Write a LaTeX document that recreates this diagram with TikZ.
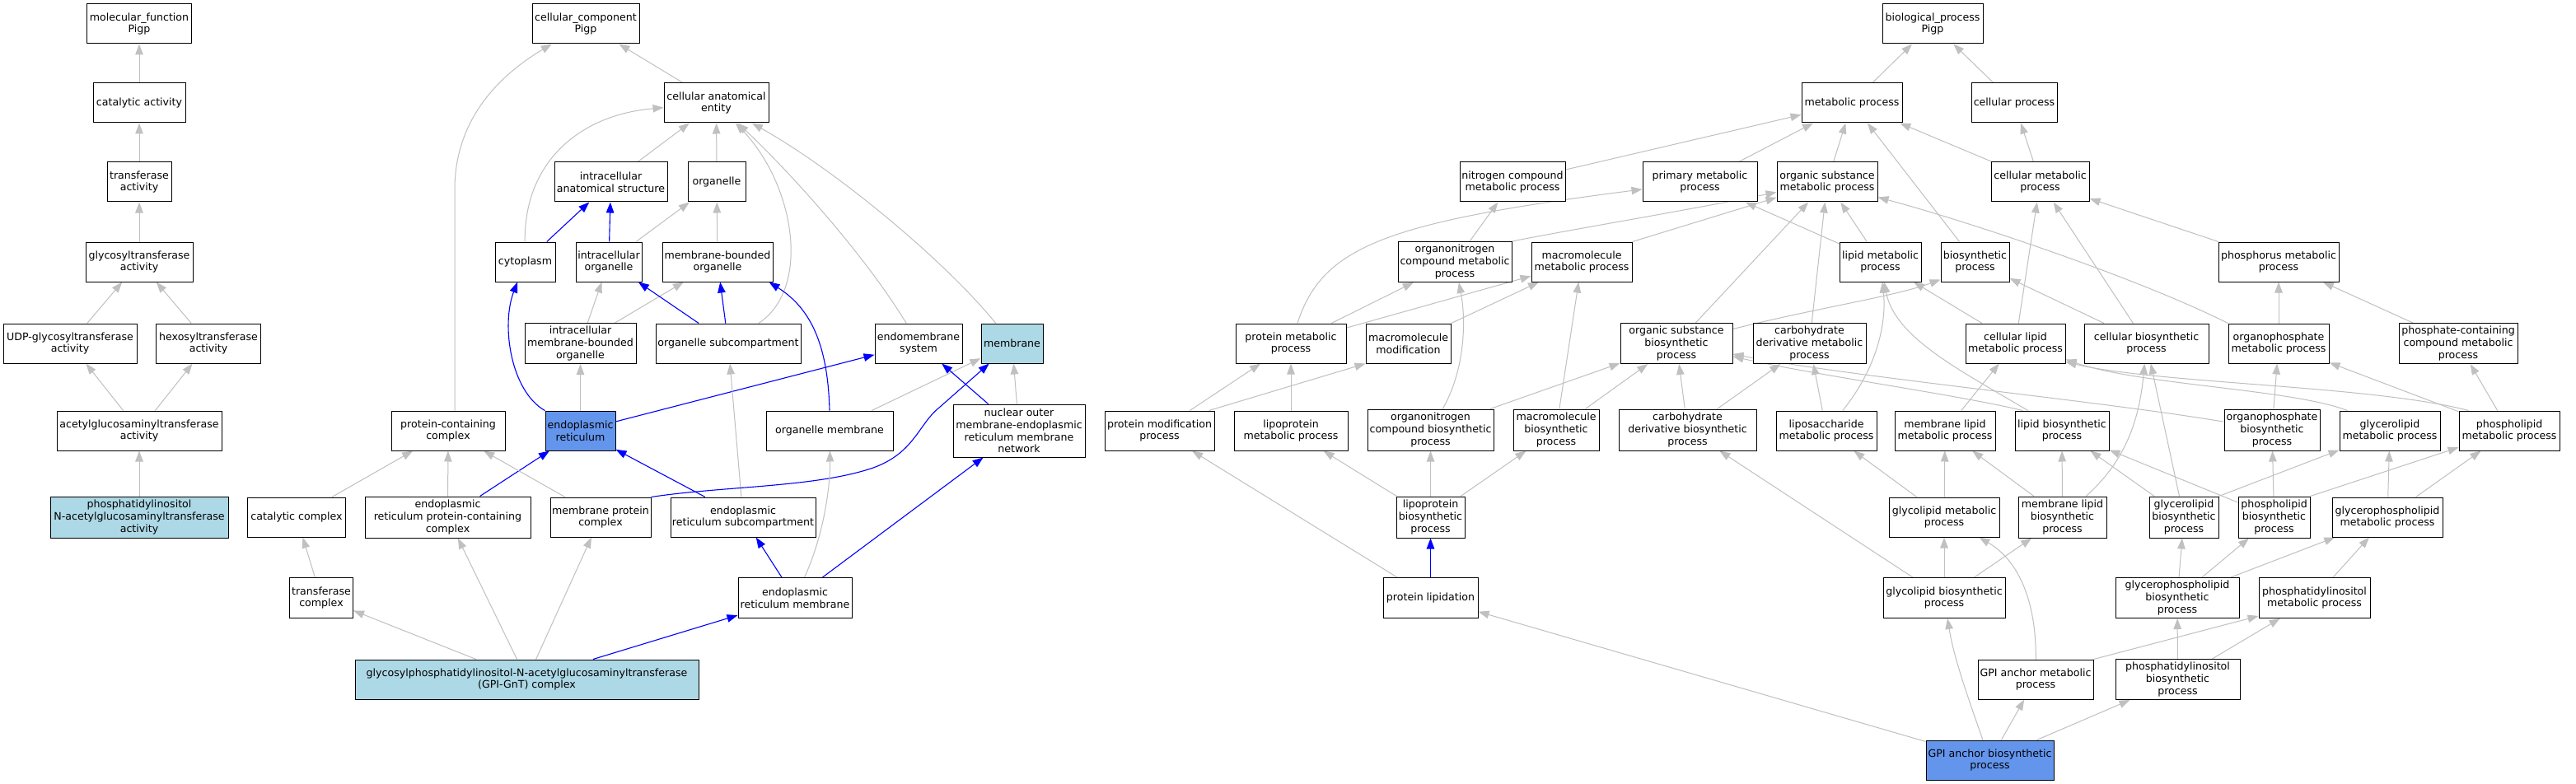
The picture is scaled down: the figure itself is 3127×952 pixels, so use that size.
\documentclass[tikz,border=0pt]{standalone}
\usepackage{fontspec}
\setmainfont{DejaVu Sans}
\usetikzlibrary{arrows.meta,backgrounds}
\definecolor{lb}{HTML}{ADD8E6}
\definecolor{cb}{HTML}{6495ED}
\definecolor{eg}{HTML}{C0C0C0}
\definecolor{eb}{HTML}{0000FF}
\tikzset{
  box/.style={draw=black, line width=1pt, fill=white, rectangle, inner sep=0pt, align=center,
              font=\fontsize{12.6pt}{14.8pt}\selectfont},
  gedge/.style={draw=eg, line width=1pt, -{Triangle[length=13pt,width=9.5pt]}},
  bedge/.style={draw=eb, line width=1.1pt, -{Triangle[length=13pt,width=9.5pt]}}
}
\newcommand{\mknode}[7][]{\node[box,#1,minimum width=#5pt,minimum height=#6pt] (#2) at (#3,#4) {#7};}
\begin{document}
\begin{tikzpicture}[x=1pt,y=-1pt]
\useasboundingbox (0,0) rectangle (3127,952);
% ---------- molecular function ----------
\mknode{mf}{169}{29}{127}{48}{molecular\_function\\Pigp}
\mknode{cat}{169}{125}{112}{48}{catalytic activity}
\mknode{tra}{169}{221}{78}{48}{transferase\\activity}
\mknode{gly}{169}{318}{130}{48}{glycosyltransferase\\activity}
\mknode{udp}{85}{417}{162}{48}{UDP-glycosyltransferase\\activity}
\mknode{hex}{253}{417}{127}{48}{hexosyltransferase\\activity}
\mknode{acg}{169}{523}{200}{48}{acetylglucosaminyltransferase\\activity}
\mknode[fill=lb]{pin}{169}{628}{216}{50}{phosphatidylinositol\\N-acetylglucosaminyltransferase\\activity}
% ---------- cellular component ----------
\mknode{cc}{711}{29}{130}{48}{cellular\_component\\Pigp}
\mknode{cae}{869.5}{125}{127}{48}{cellular anatomical\\entity}
\mknode{ias}{741.5}{221}{137}{48}{intracellular\\anatomical structure}
\mknode{org}{870}{221}{70}{48}{organelle}
\mknode{cyt}{637.5}{318}{73}{48}{cytoplasm}
\mknode{io}{739}{318}{80}{48}{intracellular\\organelle}
\mknode{mbo}{871}{318}{134}{48}{membrane-bounded\\organelle}
\mknode{imbo}{704.5}{417}{135}{49}{intracellular\\membrane-bounded\\organelle}
\mknode{osc}{884}{417}{176}{48}{organelle subcompartment}
\mknode{ems}{1115}{417}{106}{48}{endomembrane\\system}
\mknode[fill=lb]{mem}{1228.5}{417}{75}{48}{membrane}
\mknode{pcc}{544}{523}{138}{48}{protein-containing\\complex}
\mknode[fill=cb]{er}{704.5}{523}{85}{48}{endoplasmic\\reticulum}
\mknode{om}{1007}{523}{154}{48}{organelle membrane}
\mknode{nom}{1237}{523}{160}{64}{nuclear outer\\membrane-endoplasmic\\reticulum membrane\\network}
\mknode{catc}{360}{628}{119}{48}{catalytic complex}
\mknode{erpc}{543.5}{628}{201}{50}{endoplasmic\\reticulum protein-containing\\complex}
\mknode{mpc}{729}{628}{122}{48}{membrane protein\\complex}
\mknode{ersc}{902}{628}{176}{48}{endoplasmic\\reticulum subcompartment}
\mknode{trc}{390}{726}{77}{49}{transferase\\complex}
\mknode{erm}{965}{726}{138}{49}{endoplasmic\\reticulum membrane}
\mknode[fill=lb]{gnt}{639.5}{825}{417}{48}{glycosylphosphatidylinositol-N-acetylglucosaminyltransferase\\(GPI-GnT) complex}
% ---------- biological process ----------
\mknode{bp}{2346}{29}{122}{48}{biological\_process\\Pigp}
\mknode{mp}{2248}{125}{122}{48}{metabolic process}
\mknode{cp}{2445}{125}{104}{48}{cellular process}
\mknode{ncmp}{1836}{221}{128}{48}{nitrogen compound\\metabolic process}
\mknode{pmp}{2063.5}{221}{139}{48}{primary metabolic\\process}
\mknode{osmp}{2218}{221}{122}{48}{organic substance\\metabolic process}
\mknode{cmp}{2476.5}{221}{119}{48}{cellular metabolic\\process}
\mknode{oncmp}{1766}{318}{138}{49}{organonitrogen\\compound metabolic\\process}
\mknode{mmp}{1920}{318}{122}{48}{macromolecule\\metabolic process}
\mknode{lmp}{2282.5}{318}{99}{48}{lipid metabolic\\process}
\mknode{bsp}{2397.5}{318}{83}{48}{biosynthetic\\process}
\mknode{phmp}{2766}{318}{146}{48}{phosphorus metabolic\\process}
\mknode{prmp}{1567}{417}{134}{48}{protein metabolic\\process}
\mknode{mmod}{1709.5}{417}{103}{48}{macromolecule\\modification}
\mknode{osbp}{2035}{417}{136}{49}{organic substance\\biosynthetic\\process}
\mknode{cdmp}{2196.5}{417}{137}{49}{carbohydrate\\derivative metabolic\\process}
\mknode{clmp}{2446.5}{417}{121}{48}{cellular lipid\\metabolic process}
\mknode{cbp}{2605.5}{417}{151}{48}{cellular biosynthetic\\process}
\mknode{opmp}{2766}{417}{122}{48}{organophosphate\\metabolic process}
\mknode{pccmp}{2984}{417}{144}{49}{phosphate-containing\\compound metabolic\\process}
\mknode{pmod}{1407.5}{523}{133}{48}{protein modification\\process}
\mknode{lpmp}{1567}{523}{138}{48}{lipoprotein\\metabolic process}
\mknode{oncbp}{1736.5}{522}{153}{50}{organonitrogen\\compound biosynthetic\\process}
\mknode{mmbp}{1889}{522}{104}{50}{macromolecule\\biosynthetic\\process}
\mknode{cdbp}{2048.5}{522}{167}{50}{carbohydrate\\derivative biosynthetic\\process}
\mknode{lsmp}{2217}{523}{122}{48}{liposaccharide\\metabolic process}
\mknode{mlmp}{2361}{523}{122}{48}{membrane lipid\\metabolic process}
\mknode{lbp}{2503}{523}{114}{48}{lipid biosynthetic\\process}
\mknode{opbp}{2758}{522}{116}{50}{organophosphate\\biosynthetic\\process}
\mknode{glmp}{2901}{523}{122}{48}{glycerolipid\\metabolic process}
\mknode{plmp}{3046}{523}{122}{48}{phospholipid\\metabolic process}
\mknode{lpbp}{1736.5}{628}{83}{50}{lipoprotein\\biosynthetic\\process}
\mknode{gcmp}{2360}{628}{134}{48}{glycolipid metabolic\\process}
\mknode{mlbp}{2503.5}{628}{107}{50}{membrane lipid\\biosynthetic\\process}
\mknode{glbp}{2651}{628}{84}{50}{glycerolipid\\biosynthetic\\process}
\mknode{plbp}{2760.5}{628}{87}{50}{phospholipid\\biosynthetic\\process}
\mknode{gpmp}{2898}{628}{134}{48}{glycerophospholipid\\metabolic process}
\mknode{plip}{1736.5}{726}{115}{49}{protein lipidation}
\mknode{gcbp}{2360}{726}{148}{49}{glycolipid biosynthetic\\process}
\mknode{gpbp}{2643}{726}{150}{49}{glycerophospholipid\\biosynthetic\\process}
\mknode{pimp}{2809.5}{726}{135}{49}{phosphatidylinositol\\metabolic process}
\mknode{gpiam}{2471}{825}{140}{48}{GPI anchor metabolic\\process}
\mknode{pibp}{2643.5}{825}{151}{49}{phosphatidylinositol\\biosynthetic\\process}
\mknode[fill=cb]{gpiab}{2415.5}{923}{155}{48}{GPI anchor biosynthetic\\process}

\begin{pgfonlayer}{background}
\fill[white] (0,0) rectangle (3127,952);
% MF edges
\draw[gedge] (cat) -- (mf);
\draw[gedge] (tra) -- (cat);
\draw[gedge] (gly) -- (tra);
\draw[gedge] (udp) -- (gly);
\draw[gedge] (hex) -- (gly);
\draw[gedge] (acg) -- (udp);
\draw[gedge] (acg) -- (hex);
\draw[gedge] (pin) -- (acg);
% CC edges
\draw[gedge] (cae) -- (cc);
\draw[gedge] ([xshift=8pt]pcc.north) -- (552,230) .. controls (552,150) and (600,95) .. (cc);
\draw[gedge] (ias) -- (cae);
\draw[gedge] (org) -- (cae);
\draw[gedge] (cyt) .. controls (636,200) and (700,140) .. (cae);
\draw[gedge] (osc) .. controls (985,350) and (965,225) .. (cae);
\draw[gedge] (ems) .. controls (1050,310) and (960,210) .. (cae);
\draw[gedge] (mem) .. controls (1150,320) and (1020,210) .. (cae);
\draw[bedge] (cyt) -- (ias);
\draw[bedge] (io) -- (ias);
\draw[gedge] (io) -- (org);
\draw[gedge] (mbo) -- (org);
\draw[gedge] (imbo) -- (io);
\draw[gedge] (imbo) -- (mbo);
\draw[bedge] (osc) -- (io);
\draw[bedge] (osc) -- (mbo);
\draw[bedge] (om.north) .. controls (1005,420) and (985,375) .. ([xshift=-5pt]mbo.south east);
\draw[gedge] (om) -- (mem);
\draw[gedge] (er) -- (imbo);
\draw[bedge] (er) .. controls (620,475) and (608,395) .. (cyt);
\draw[bedge] (er) -- (ems);
\draw[bedge] (ersc) -- (er);
\draw[gedge] (ersc) -- (osc);
\draw[bedge] (erpc) -- (er);
\draw[gedge] (erpc) -- (pcc);
\draw[gedge] (mpc) -- (pcc);
\draw[bedge] (mpc.north east) .. controls (880,590) and (990,592) .. (1060,568) .. controls (1110,550) and (1115,515) .. (1140,495) -- (mem);
\draw[gedge] (catc) -- (pcc);
\draw[gedge] (trc) -- (catc);
\draw[gedge] (gnt) -- (trc);
\draw[gedge] (gnt) -- (erpc);
\draw[gedge] (gnt) -- (mpc);
\draw[bedge] (gnt) -- (erm);
\draw[bedge] (erm) -- (ersc);
\draw[gedge] (erm) .. controls (1000,650) and (1008,590) .. (om);
\draw[bedge] (erm) -- (nom);
\draw[bedge] (nom) -- (ems);
\draw[gedge] (nom) -- (mem);
% BP edges
\draw[gedge] (mp) -- (bp);
\draw[gedge] (cp) -- (bp);
\draw[gedge] (ncmp) -- (mp);
\draw[gedge] (pmp) -- (mp);
\draw[gedge] (osmp) -- (mp);
\draw[gedge] (bsp) -- (mp);
\draw[gedge] (cmp) -- (mp);
\draw[gedge] (cmp) -- (cp);
\draw[gedge] (oncmp) -- (ncmp);
\draw[gedge] (oncmp.north east) .. controls (1900,280) and (2050,255) .. (osmp);
\draw[gedge] (mmp.north east) -- (osmp);
\draw[gedge] (lmp) -- (pmp);
\draw[gedge] (lmp) -- (osmp);
\draw[gedge] (prmp) .. controls (1605,300) and (1680,270) .. (pmp);
\draw[gedge] (prmp) -- (oncmp);
\draw[gedge] (prmp) -- (mmp);
\draw[gedge] (mmod) -- (mmp);
\draw[gedge] (osbp) -- (osmp);
\draw[gedge] (osbp) .. controls (2200,375) and (2300,360) .. ([yshift=3pt]bsp.south west);
\draw[gedge] (cdmp) -- (osmp);
\draw[gedge] (clmp) -- (cmp);
\draw[gedge] (clmp) -- (lmp);
\draw[gedge] (cbp) -- (cmp);
\draw[gedge] (cbp) -- (bsp);
\draw[gedge] (phmp) -- (cmp);
\draw[gedge] (opmp) -- (phmp);
\draw[gedge] (opmp.north west) .. controls (2600,340) and (2400,272) .. ([yshift=6pt]osmp.south east);
\draw[gedge] (pccmp) -- (phmp);
\draw[gedge] (pmod) -- (prmp);
\draw[gedge] ([xshift=-7pt]pmod.north east) -- (mmod.south west);
\draw[gedge] (lpmp) -- (prmp);
\draw[gedge] (oncbp) .. controls (1778,450) and (1780,390) .. (oncmp);
\draw[gedge] (oncbp) -- (osbp);
\draw[gedge] (mmbp) -- (mmp);
\draw[gedge] (mmbp) -- (osbp);
\draw[gedge] (cdbp) -- (osbp);
\draw[gedge] (cdbp) -- (cdmp);
\draw[gedge] (lsmp) -- (cdmp);
\draw[gedge] (lsmp) .. controls (2280,445) and (2290,390) .. (lmp);
\draw[gedge] (mlmp) -- (clmp);
\draw[gedge] (lbp) .. controls (2380,450) and (2300,410) .. (lmp);
\draw[gedge] ([xshift=10pt]lbp.north west) .. controls (2380,480) and (2200,455) .. (osbp);
\draw[gedge] (opbp) -- (opmp);
\draw[gedge] (opbp) .. controls (2550,487) and (2250,458) .. (osbp);
\draw[gedge] ([xshift=10pt]glmp.north west) .. controls (2780,472) and (2600,468) .. ([yshift=5pt]clmp.south east);
\draw[gedge] ([xshift=12pt]plmp.north west) .. controls (2880,468) and (2620,466) .. ([yshift=2pt]clmp.south east);
\draw[gedge] (plmp) -- (opmp);
\draw[gedge] (plmp) -- (pccmp);
\draw[gedge] (lpbp) -- (lpmp);
\draw[gedge] (lpbp) -- (oncbp);
\draw[gedge] (lpbp) -- (mmbp);
\draw[bedge] (plip) -- (lpbp);
\draw[gedge] (plip) -- (pmod);
\draw[gedge] (gcmp) -- (lsmp);
\draw[gedge] (gcmp) -- (mlmp);
\draw[gedge] (mlbp) -- (mlmp);
\draw[gedge] (mlbp) -- (lbp);
\draw[gedge] (mlbp) .. controls (2580,560) and (2597,510) .. (cbp);
\draw[gedge] (glbp.north east) -- (glmp);
\draw[gedge] (glbp) -- (lbp);
\draw[gedge] (glbp) -- (cbp);
\draw[gedge] (plbp) -- (opbp);
\draw[gedge] (plbp.north east) -- (plmp);
\draw[gedge] (plbp) -- (lbp);
\draw[gedge] (gpmp) -- (glmp);
\draw[gedge] (gpmp) -- (plmp);
\draw[gedge] (gcbp) -- (gcmp);
\draw[gedge] (gcbp) -- (mlbp);
\draw[gedge] (gcbp) -- (cdbp);
\draw[gedge] (gpbp) -- (glbp);
\draw[gedge] (gpbp) -- (plbp);
\draw[gedge] (gpbp) -- (gpmp);
\draw[gedge] (pimp) -- (gpmp);
\draw[gedge] (gpiam) .. controls (2472,730) and (2450,680) .. (gcmp);
\draw[gedge] (gpiam.north east) -- ([yshift=3pt]pimp.south west);
\draw[gedge] (pibp) -- (pimp);
\draw[gedge] (pibp) -- (gpbp);
\draw[gedge] (gpiab) -- (plip);
\draw[gedge] (gpiab) .. controls (2390,850) and (2372,800) .. (gcbp);
\draw[gedge] (gpiab) -- (gpiam);
\draw[gedge] (gpiab) -- (pibp);
\end{pgfonlayer}
\end{tikzpicture}
\end{document}
